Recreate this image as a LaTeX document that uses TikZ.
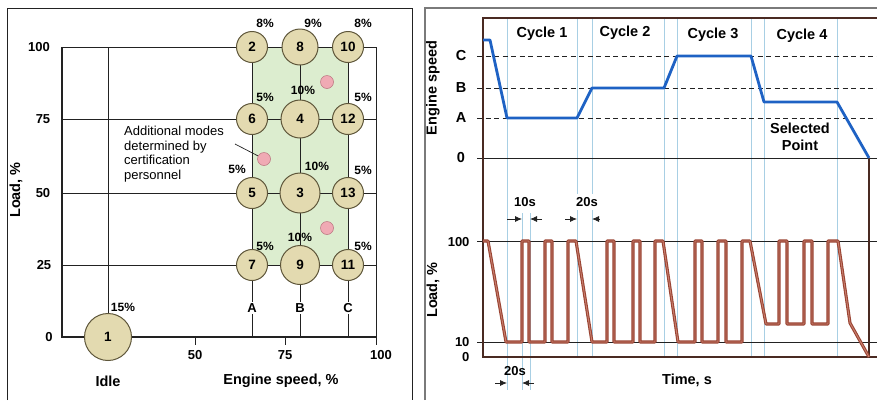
\documentclass[tikz,border=0pt]{standalone}
\usepackage{fontspec}
\setmainfont{Liberation Sans}
\usepackage{tikz}
\usetikzlibrary{arrows.meta}
\definecolor{cink}{HTML}{222222}
\definecolor{ctan}{HTML}{E3DAB0}
\definecolor{cedge}{HTML}{5E563A}
\definecolor{cgreen}{HTML}{DCEDCF}
\definecolor{cpink}{HTML}{F0AAB4}
\definecolor{cpinkedge}{HTML}{B8707C}
\definecolor{cblue}{HTML}{1E62C4}
\definecolor{cbrown}{HTML}{9A4433}
\definecolor{cbrownin}{HTML}{C98070}
\definecolor{cgrid}{HTML}{A8CFE4}
\definecolor{caxis}{HTML}{4A2A22}
\definecolor{cframe}{HTML}{7A7A7A}
\tikzset{
  >={Latex[length=7pt,width=6pt]},
  grd/.style={cink,line width=0.9pt},
  axs/.style={cink,line width=1.6pt},
  modecirc/.style={circle,draw=cedge,fill=ctan,line width=1pt,inner sep=0pt,minimum size=#1,font=\fontsize{13.5}{15}\selectfont\bfseries},
  addmode/.style={circle,draw=cpinkedge,fill=cpink,line width=0.5pt,inner sep=0pt,minimum size=13pt},
  pct/.style={font=\fontsize{12}{14}\selectfont\bfseries},
  tck/.style={font=\fontsize{13}{15}\selectfont\bfseries},
  ttl/.style={font=\fontsize{14.5}{17}\selectfont\bfseries},
  tgrid/.style={cgrid,line width=0.6pt},
  lvl/.style={cink,line width=0.8pt,dash pattern=on 5pt off 3.5pt},
  speedcrv/.style={cblue,line width=2.8pt,line join=round},
  loadcrv/.style={cbrown,double=cbrownin,double distance=0.9pt,line width=1.1pt,line join=round},
  dimarr/.style={->,cink,line width=0.8pt},
}

\begin{document}
\begin{tikzpicture}[x=1pt,y=-1pt]
\useasboundingbox (0,0) rectangle (877,400);

% ================= PANEL A : mode map =================
\begin{scope}
  \draw[cink,line width=1pt] (7,400) -- (7,8) -- (412,8) -- (412,400);
  % test region (green)
  \fill[cgreen] (252,47) rectangle (348,265);
  % grid and axes
  \foreach \y in {47,119,193,265} \draw[grd] (62,\y) -- (376,\y);
  \foreach \x in {108,252,300,348,376} \draw[grd] (\x,47) -- (\x,337);
  \foreach \x in {195,285,376} \draw[grd] (\x,337) -- (\x,345);
  \draw[axs] (62,47) -- (62,337) -- (376,337);
  \node[tck,fill=white,inner sep=1.5pt] (colA) at (252,308) {A};
  \node[tck,fill=white,inner sep=1.5pt] (colB) at (300,308) {B};
  \node[tck,fill=white,inner sep=1.5pt] (colC) at (348,308) {C};
  % modes
  \node[modecirc=31pt] (m2) at (252,47) {2};
  \node[modecirc=36pt] (m8) at (300,47) {8};
  \node[modecirc=31pt] (m10) at (348,47) {10};
  \node[modecirc=31pt] (m6) at (252,119) {6};
  \node[modecirc=38pt] (m4) at (300,119) {4};
  \node[modecirc=31pt] (m12) at (348,119) {12};
  \node[modecirc=31pt] (m5) at (252,193) {5};
  \node[modecirc=40pt] (m3) at (300,193) {3};
  \node[modecirc=31pt] (m13) at (348,193) {13};
  \node[modecirc=31pt] (m7) at (252,265) {7};
  \node[modecirc=39pt] (m9) at (300,265) {9};
  \node[modecirc=31pt] (m11) at (348,265) {11};
  \node[modecirc=47pt] (m1) at (108,337) {1};
  % weights
  \node[pct] (w2) at (265,23) {8\%};  \node[pct] (w8) at (313,23) {9\%};  \node[pct] (w10) at (363,23) {8\%};
  \node[pct] (w6) at (265,97) {5\%};  \node[pct] (w4) at (303,90) {10\%}; \node[pct] (w12) at (363,97) {5\%};
  \node[pct] (w5) at (237,169) {5\%}; \node[pct] (w3) at (317,166) {10\%}; \node[pct] (w13) at (363,170) {5\%};
  \node[pct] (w7) at (265,246) {5\%}; \node[pct] (w9) at (300,237) {10\%}; \node[pct] (w11) at (363,246) {5\%};
  \node[pct] (w1) at (123,307) {15\%};
  % additional modes
  \node[addmode] (ad1) at (327,82) {};
  \node[addmode] (ad2) at (264,159) {};
  \node[addmode] (ad3) at (327,228) {};
  \node[anchor=north west,align=left,inner sep=0pt,font=\fontsize{13}{14.5}\selectfont] (addtxt) at (124,126) {Additional modes\\determined by\\certification\\personnel};
  \coordinate (addtip) at (235,144);
  \draw[cink,line width=0.7pt] (addtip) -- (ad2);
  % axis labels
  \node[tck] (y100) at (39,47) {100}; \node[tck] (y75) at (43,119) {75};
  \node[tck] (y50) at (43,193) {50};  \node[tck] (y25) at (44,265) {25};
  \node[tck] (y0) at (49,337) {0};
  \node[tck] (x50) at (195,355) {50}; \node[tck] (x75) at (285,355) {75};
  \node[tck] (x100) at (381,355) {100};
  \node[ttl] (idle) at (108,381) {Idle};
  \node[ttl] (xlbl) at (281,381) {Engine speed, \%};
  \node[ttl,rotate=90] (ylbl) at (16,190) {Load, \%};
\end{scope}

% ================= PANEL B : cycles =================
\begin{scope}
  \draw[cframe,line width=1.8pt] (425,400) -- (425,8) -- (877,8);
  % time markers (blue)
  \foreach \x in {577,592,664,677,751,764,837} \draw[tgrid] (\x,18) -- (\x,357);
  \draw[tgrid] (507,18) -- (507,390);
  \foreach \x in {522,530} \draw[tgrid] (\x,213) -- (\x,390);
  % levels
  \foreach \y in {56,88,118} \draw[lvl] (477,\y) -- (877,\y);
  \foreach \y in {158,241,342} \draw[cink,line width=0.9pt] (477,\y) -- (877,\y);
  \draw[caxis,line width=1.2pt] (877,18) -- (483,18) -- (483,357) -- (877,357);
  \draw[caxis,line width=1.2pt] (869,158) -- (869,357);
  % engine speed trace
  \draw[speedcrv] (483,40) -- (490,40) -- (507,118) -- (577,118) -- (592,88) -- (664,88)
    -- (677,56) -- (751,56) -- (764,102) -- (837,102) -- (869,158);
  % load trace
  \draw[loadcrv] (483,241) -- (488,241) -- (506,342) -- (522,342) -- (522,241) -- (529,241)
    -- (529,342) -- (545,342) -- (545,241) -- (552,241) -- (552,342) -- (568,342) -- (568,241)
    -- (576,241) -- (592,342) -- (607,342) -- (607,241) -- (614,241) -- (614,342) -- (633,342)
    -- (633,241) -- (640,241) -- (640,342) -- (655,342) -- (655,241) -- (663,241) -- (678,342)
    -- (695,342) -- (695,241) -- (702,241) -- (702,342) -- (718,342) -- (718,241) -- (726,241)
    -- (726,342) -- (742,342) -- (742,241) -- (750,241) -- (766,324) -- (779,324) -- (779,241)
    -- (787,241) -- (787,324) -- (804,324) -- (804,241) -- (812,241) -- (812,324) -- (828,324)
    -- (828,241) -- (838,241) -- (850,323) -- (869,357);
  % durations
  \node[tck,fill=white,inner sep=1pt] (d10) at (525,202) {10s};
  \draw[dimarr] (507,219) -- (522,219); \draw[dimarr] (542,219) -- (530,219);
  \node[tck,fill=white,inner sep=3pt] (d20a) at (587,202) {20s};
  \draw[dimarr] (565,219) -- (577,219); \draw[dimarr] (599,219) -- (592,219);
  \node[tck] (d20b) at (515,371) {20s};
  \draw[dimarr] (495,383) -- (507,383); \draw[dimarr] (534,383) -- (522,383);
  % labels
  \node[ttl] (cyc1) at (542,34) {Cycle 1};
  \node[ttl] (cyc2) at (625,33) {Cycle 2};
  \node[ttl] (cyc3) at (713,35) {Cycle 3};
  \node[ttl] (cyc4) at (802,36) {Cycle 4};
  \node[ttl,align=center,font=\fontsize{14.5}{17}\selectfont\bfseries] (selpt) at (800,137) {Selected\\Point};
  \node[ttl] (spC) at (461,56) {C}; \node[ttl] (spB) at (461,88) {B};
  \node[ttl] (spA) at (461,118) {A}; \node[ttl] (sp0) at (461,158) {0};
  \node[tck,anchor=east] (ld100) at (473,242) {100};
  \node[tck,anchor=east] (ld10) at (473,342) {10};
  \node[tck,anchor=east] (ld0) at (473,357) {0};
  \node[ttl,rotate=90] (splbl) at (433,88) {Engine speed};
  \node[ttl,rotate=90] (ldlbl) at (433,290) {Load, \%};
  \node[ttl] (tlbl) at (687,380) {Time, s};
\end{scope}

\end{tikzpicture}
\end{document}
